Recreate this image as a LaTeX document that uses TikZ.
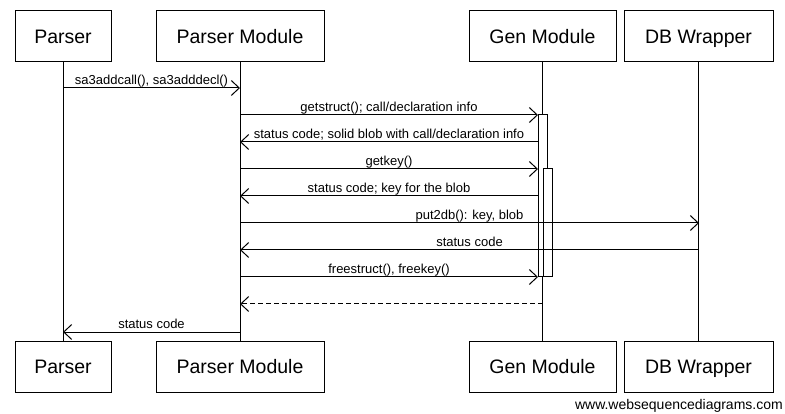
\documentclass[tikz,border=0pt]{standalone}
\usepackage{fontspec}
\setmainfont{Liberation Sans}
\usetikzlibrary{arrows.meta}

\tikzset{
    actor/.style={draw, line width=1pt, minimum height=51pt, inner sep=0pt, text height=14pt, text depth=0pt, font=\fontsize{19.5}{22}\selectfont},
    msg/.style={line width=1pt, -{Straight Barb[length=8pt,width=15pt,line width=1pt]}},
    reply/.style={msg, dash pattern=on 5pt off 3pt},
    lbl/.style={anchor=base, inner sep=0pt, yshift=3pt, font=\fontsize{13}{15}\selectfont},
    act/.style={draw, fill=white, line width=1pt},
}

\begin{document}
\begin{tikzpicture}[x=1pt,y=-1pt]
    \useasboundingbox (0,0) rectangle (785,414);

    % participants
    \node[actor, minimum width=96pt] (parserT) at (63,36.5) {Parser};
    \node[actor, minimum width=168pt] (pmodT) at (240,36.5) {Parser Module};
    \node[actor, minimum width=147pt] (genT) at (542.5,36.5) {Gen Module};
    \node[actor, minimum width=149pt] (dbT) at (698.5,36.5) {DB Wrapper};
    \node[actor, minimum width=96pt] (parserB) at (63,366.5) {Parser};
    \node[actor, minimum width=168pt] (pmodB) at (240,366.5) {Parser Module};
    \node[actor, minimum width=147pt] (genB) at (542.5,366.5) {Gen Module};
    \node[actor, minimum width=149pt] (dbB) at (698.5,366.5) {DB Wrapper};

    % lifelines
    \draw[line width=1pt](parserT.south)--(parserB.north);
    \draw[line width=1pt](pmodT.south)--(pmodB.north);
    \draw[line width=1pt](genT.south)--(genB.north);
    \draw[line width=1pt](dbT.south)--(dbB.north);

    % activations of Gen Module
    \draw[act](538,115)rectangle(547,277);
    \draw[act](543,169)rectangle(552,277);

    % message ends
    \coordinate (p1) at (63,88);   \coordinate (m1) at (240,88);
    \coordinate (m2) at (240,115); \coordinate (g2) at (538,115);
    \coordinate (m3) at (240,142); \coordinate (g3) at (538,142);
    \coordinate (m4) at (240,169); \coordinate (g4) at (538,169);
    \coordinate (m5) at (240,196); \coordinate (g5) at (538,196);
    \coordinate (m6) at (240,223); \coordinate (d6) at (699,223);
    \coordinate (m7) at (240,250); \coordinate (d7) at (699,250);
    \coordinate (m8) at (240,277); \coordinate (g8) at (538,277);
    \coordinate (m9) at (240,304); \coordinate (g9) at (542.5,304);
    \coordinate (p10) at (63,332); \coordinate (m10) at (240,332);

    % messages
    \draw[msg](p1)--node[lbl]{sa3addcall(), sa3adddecl()}(m1);
    \draw[msg](m2)--node[lbl]{getstruct(); call/declaration info}(g2);
    \draw[msg](g3)--node[lbl]{status code; solid blob with call/declaration info}(m3);
    \draw[msg](m4)--node[lbl]{getkey()}(g4);
    \draw[msg](g5)--node[lbl]{status code; key for the blob}(m5);
    \draw[msg](m6)--node[lbl]{put2db(): key, blob}(d6);
    \draw[msg](d7)--node[lbl]{status code}(m7);
    \draw[msg](m8)--node[lbl]{freestruct(), freekey()}(g8);
    \draw[reply](g9)--(m9);
    \draw[msg](m10)--node[lbl]{status code}(p10);

    \node[anchor=base east, inner sep=0pt, font=\fontsize{14}{16}\selectfont] (credit) at (783,409) {www.websequencediagrams.com};
\end{tikzpicture}
\end{document}
